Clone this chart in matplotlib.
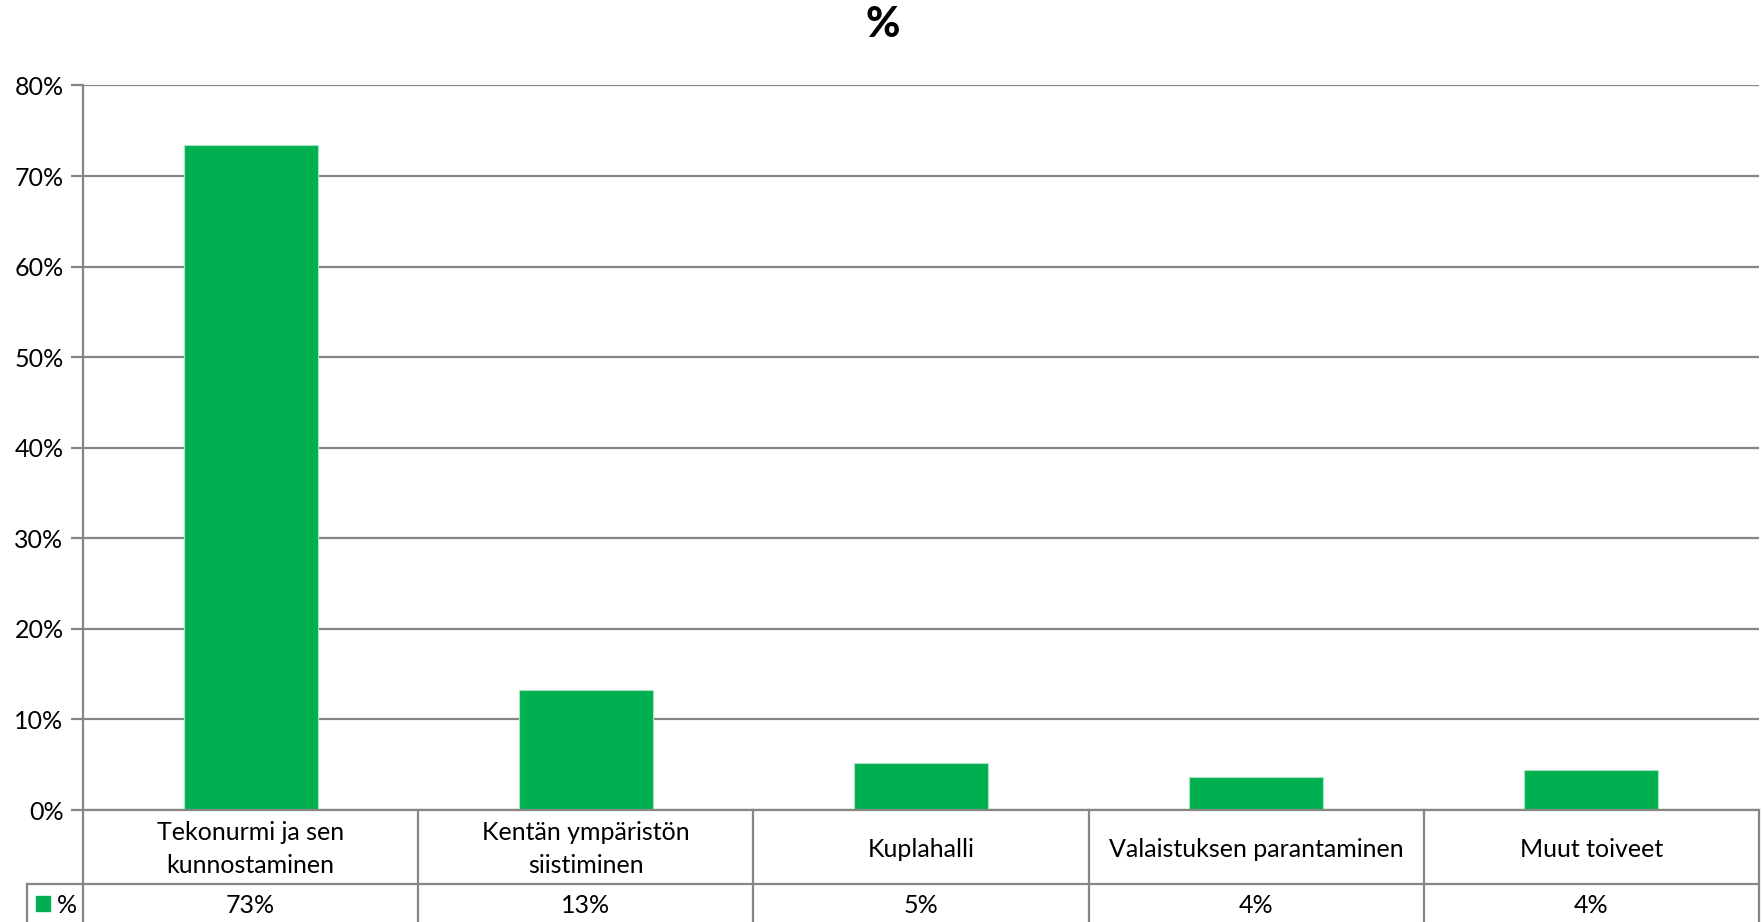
import matplotlib
matplotlib.use("Agg")
import matplotlib.pyplot as plt
from matplotlib.patches import Rectangle

categories = ["Tekonurmi ja sen\nkunnostaminen", "Kentän ympäristön\nsiistiminen",
              "Kuplahalli", "Valaistuksen parantaminen", "Muut toiveet"]
values = [73.4, 13.3, 5.2, 3.6, 4.4]
value_labels = ["73%", "13%", "5%", "4%", "4%"]
yticks = [0, 10, 20, 30, 40, 50, 60, 70, 80]
series_name = "%"

GREEN = "#00B050"
GRID = "#868686"
FS = 18
plt.rcParams["font.family"] = ["Lato", "DejaVu Sans"]

fig = plt.figure(figsize=(17.65, 9.22), dpi=100)
ax = fig.add_axes([83 / 1765, 1 - 810 / 922, (1759 - 83) / 1765, (810 - 85.5) / 922])

x = list(range(len(categories)))
ax.bar(x, values, width=0.4, color=GREEN, edgecolor="#a8e6c0", linewidth=0.8, zorder=3)

ax.set_xlim(-0.5, len(categories) - 0.5)
ax.set_ylim(0, 80)
ax.set_yticks(yticks)
ax.set_yticklabels([f"{t}%" for t in yticks], fontsize=FS)
ax.yaxis.grid(True, color=GRID, linewidth=1.6, zorder=0)
ax.set_xticks([])
for s in ["top", "right", "bottom"]:
    ax.spines[s].set_visible(False)
ax.spines["left"].set_color(GRID)
ax.spines["left"].set_linewidth(1.6)
ax.tick_params(axis="y", length=9, width=1.6, color=GRID, pad=5)

fig.text(0.5, 1 - 25 / 922, "%", fontsize=30, fontweight="black", ha="center", va="center")

# data table below the plot
tr = ax.get_xaxis_transform()
r1 = -74 / 724.5
r2 = -(922 - 810) / 724.5
xl = -0.5
xr = len(categories) - 0.5
leg_left = xl - 56 / (1676 / len(categories))
lk = dict(color=GRID, linewidth=1.6, transform=tr, clip_on=False, zorder=5)
ax.plot([xl, xr], [0, 0], **lk)
ax.plot([leg_left, xr], [r1, r1], **lk)
ax.plot([leg_left, leg_left], [r1, r2], **lk)
for b in range(len(categories) + 1):
    ax.plot([xl + b, xl + b], [0, r2], **lk)

for i, (c, v) in enumerate(zip(categories, value_labels)):
    ax.text(i, r1 / 2 - 0.003, c, transform=tr, ha="center", va="center",
            fontsize=FS, linespacing=1.55)
    ax.text(i, (r1 + r2) / 2 - 0.004, v, transform=tr, ha="center", va="center", fontsize=FS)

ax.add_patch(Rectangle((leg_left + 0.028, (r1 + r2) / 2 - 0.011), 0.04, 0.02,
                       transform=tr, color=GREEN, clip_on=False))
ax.text(leg_left + 0.09, (r1 + r2) / 2 - 0.004, series_name, transform=tr,
        ha="left", va="center", fontsize=FS)

fig.savefig("out.png", dpi=100)
